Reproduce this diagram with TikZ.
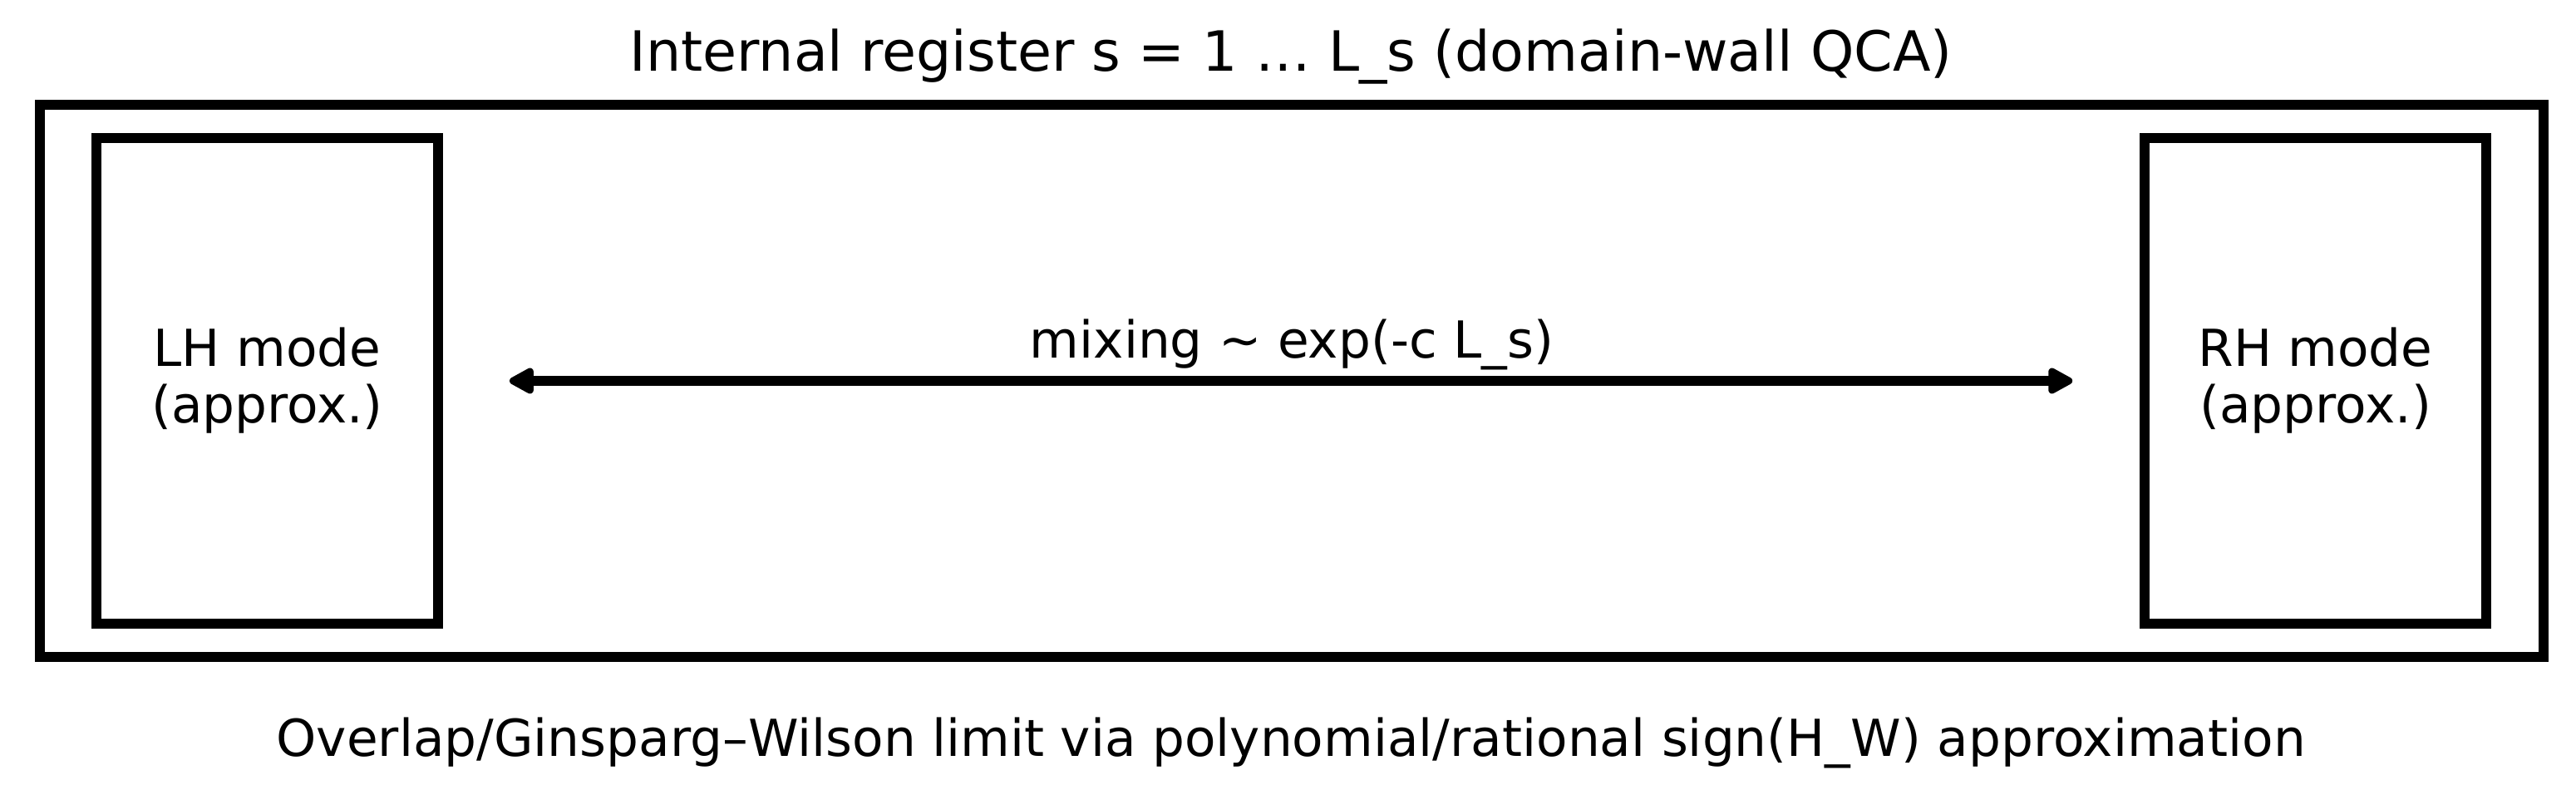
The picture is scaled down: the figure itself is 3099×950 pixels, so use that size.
\documentclass[tikz,border=0pt]{standalone}
\usepackage{fontspec}
\setmainfont{DejaVu Sans}
\usetikzlibrary{arrows.meta}
\begin{document}
\begin{tikzpicture}[x=0.24pt,y=-0.24pt,
  bodytext/.style={font=\fontsize{14.72pt}{16.3pt}\selectfont},
  titletext/.style={font=\fontsize{16pt}{19pt}\selectfont},
  framebox/.style={draw=black, line width=2.88pt, inner sep=0pt},
  modebox/.style={framebox, minimum width=98.64pt, minimum height=140.16pt, align=center, bodytext},
  link/.style={line width=2.8pt, >={Triangle[round, length=8.2pt, width=8.2pt]}, <->}
]
\useasboundingbox (0,0) rectangle (3099,950);
\node[framebox, minimum width=722.88pt, minimum height=159.36pt] (outer) at (1554,458) {};
\node[modebox] (lh) at (321.5,458) {LH mode\\(approx.)};
\node[modebox] (rh) at (2785.5,458) {RH mode\\(approx.)};
\node[titletext, anchor=base] (title) at (1553,86) {Internal register s = 1 … L\_s (domain-wall QCA)};
\node[bodytext, anchor=base] (caption) at (1553,910) {Overlap/Ginsparg–Wilson limit via polynomial/rational sign(H\_W) approximation};
\draw[link, shorten <=19.2pt, shorten >=19.4pt] (lh.east) -- (rh.west);
\node[bodytext, anchor=base] (mix) at (1554,431) {mixing \textasciitilde{} exp(-c L\_s)};
\end{tikzpicture}
\end{document}
